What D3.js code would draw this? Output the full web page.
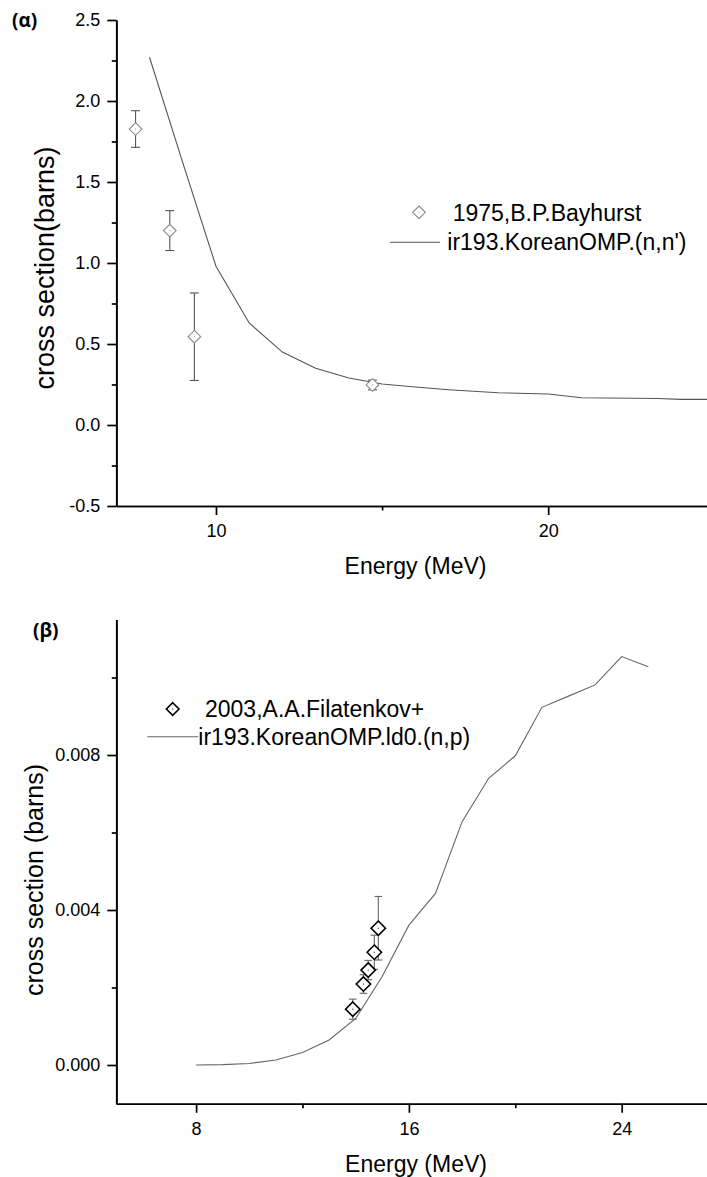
<!DOCTYPE html>
<html>
<head>
<meta charset="utf-8">
<script src="https://cdn.jsdelivr.net/npm/d3@7"></script>
<style>
  html, body { margin: 0; padding: 0; background: #fff; }
  svg { display: block; font-family: "Liberation Sans", Arial, sans-serif; }
  .axis path, .axis line { stroke: #000; stroke-width: 1.7px; }
  .axis text { font-size: 18px; fill: #000; }
</style>
</head>
<body>
<svg id="chart" width="707" height="1177"></svg>
<script>
// ---- Panel (α): Ir-193 (n,n') ----
const bayhurstE   = [7.58, 8.61, 9.35, 14.71];
const bayhurstXS  = [1.827, 1.20, 0.545, 0.247];
const bayhurstErr = [0.113, 0.123, 0.27, 0.03];

const ompNnE  = [8, 9, 10, 11, 12, 13, 14, 15, 16, 17, 18.5, 20, 21, 23.3, 24, 25];
const ompNnXS = [2.27, 1.62, 0.98, 0.63, 0.45, 0.35, 0.29, 0.253, 0.235, 0.218, 0.199, 0.191, 0.168, 0.164, 0.158, 0.158];

const topXTicks = [10, 20];
const topXMinor = [15];
const topYTicks = [-0.5, 0, 0.5, 1.0, 1.5, 2.0, 2.5];
const topYMinor = [-0.25, 0.25, 0.75, 1.25, 1.75, 2.25];

// ---- Panel (β): Ir-193 (n,p) ----
const filatenkovE   = [13.89, 14.29, 14.47, 14.70, 14.85];
const filatenkovXS  = [0.00144, 0.00209, 0.00245, 0.00291, 0.00353];
const filatenkovErr = [0.00026, 0.00024, 0.00025, 0.00044, 0.00082];

const ompNpE  = [8, 9, 10, 11, 12, 13, 14, 15, 16, 17, 18, 19, 20, 21, 22, 23, 24, 25];
const ompNpXS = [0, 0.00001, 0.00004, 0.00013, 0.00032, 0.000645, 0.0012, 0.00229, 0.00361,
                 0.00443, 0.00628, 0.0074, 0.00798, 0.00923, 0.00952, 0.00981, 0.01054, 0.01028];

const botXTicks = [8, 16, 24];
const botXMinor = [12, 20];
const botYTicks = [0, 0.004, 0.008];
const botYMinor = [0.002, 0.006, 0.010];

const svg = d3.select("#chart");

// plain hyphen for negative numbers
const fmt = spec => { const f = d3.format(spec); return v => f(v).replace("\u2212", "-"); };

function diamond(g, cx, cy, r, stroke, sw) {
  g.append("path")
    .attr("d", `M${cx},${cy - r}L${cx + r},${cy}L${cx},${cy + r}L${cx - r},${cy}Z`)
    .attr("fill", "#fff").attr("stroke", stroke).attr("stroke-width", sw);
  g.append("rect").attr("x", cx - 0.5).attr("y", cy - 0.5).attr("width", 1).attr("height", 1)
    .attr("fill", stroke);
}

function panel(cfg) {
  const x = d3.scaleLinear().domain(cfg.xDomain).range(cfg.xRange);
  const y = d3.scaleLinear().domain(cfg.yDomain).range(cfg.yRange);
  const g = svg.append("g");
  const x0 = cfg.xRange[0], yb = cfg.yRange[0];

  // axes: major and minor ticks, outward
  g.append("g").attr("class", "axis").attr("transform", `translate(0,${yb})`)
    .call(d3.axisBottom(x).tickValues(cfg.xMinor).tickSize(4.5).tickSizeOuter(0).tickFormat(""));
  g.append("g").attr("class", "axis").attr("transform", `translate(0,${yb})`)
    .call(d3.axisBottom(x).tickValues(cfg.xTicks).tickSize(9).tickPadding(9).tickSizeOuter(0)
      .tickFormat(fmt("d")));
  g.append("g").attr("class", "axis").attr("transform", `translate(${x0},0)`)
    .call(d3.axisLeft(y).tickValues(cfg.yMinor).tickSize(4.5).tickSizeOuter(0).tickFormat(""));
  g.append("g").attr("class", "axis").attr("transform", `translate(${x0},0)`)
    .call(d3.axisLeft(y).tickValues(cfg.yTicks).tickSize(9).tickPadding(7).tickSizeOuter(0)
      .tickFormat(fmt(cfg.yFormat)));

  // model curve
  const line = d3.line().x(d => x(d[0])).y(d => y(d[1]));
  g.append("path").datum(d3.zip(cfg.lineE, cfg.lineXS))
    .attr("d", line).attr("fill", "none")
    .attr("stroke", cfg.lineColor).attr("stroke-width", 1.1);

  // measurements with error bars
  const pts = g.append("g");
  cfg.ptE.forEach((e, i) => {
    const cx = x(e), cy = y(cfg.ptXS[i]);
    const yt = y(cfg.ptXS[i] + cfg.ptErr[i]), ybm = y(cfg.ptXS[i] - cfg.ptErr[i]);
    pts.append("line").attr("x1", cx).attr("x2", cx).attr("y1", yt).attr("y2", ybm)
      .attr("stroke", cfg.errColor).attr("stroke-width", 1.1);
    [yt, ybm].forEach(v => pts.append("line")
      .attr("x1", cx - cfg.cap).attr("x2", cx + cfg.cap).attr("y1", v).attr("y2", v)
      .attr("stroke", cfg.errColor).attr("stroke-width", 1.1));
  });
  cfg.ptE.forEach((e, i) => diamond(pts, x(e), y(cfg.ptXS[i]), cfg.mr, cfg.markColor, cfg.msw));

  // axis titles
  g.append("text").attr("x", cfg.xTitlePos[0]).attr("y", cfg.xTitlePos[1])
    .attr("text-anchor", "middle").attr("font-size", 23).text("Energy (MeV)");
  g.append("text")
    .attr("transform", `translate(${cfg.yTitlePos[0]},${cfg.yTitlePos[1]}) rotate(-90)`)
    .attr("text-anchor", "middle").attr("font-size", cfg.yTitleSize).text(cfg.yTitle);

  // panel tag
  g.append("text").attr("x", cfg.tagPos[0]).attr("y", cfg.tagPos[1])
    .attr("font-size", 19).attr("font-weight", "bold")
    .attr("font-family", "'Open Sans', 'Liberation Sans', sans-serif").text(cfg.tag);

  // legend
  const lg = g.append("g").attr("font-size", 23);
  diamond(lg, cfg.legend.mark[0], cfg.legend.mark[1], cfg.legend.mr, cfg.markColor, cfg.msw);
  lg.append("text").attr("x", cfg.legend.t1[0]).attr("y", cfg.legend.t1[1]).text(cfg.legend.label1);
  lg.append("line").attr("x1", cfg.legend.line[0]).attr("x2", cfg.legend.line[1])
    .attr("y1", cfg.legend.line[2]).attr("y2", cfg.legend.line[2])
    .attr("stroke", cfg.lineColor).attr("stroke-width", 1.1);
  lg.append("text").attr("x", cfg.legend.t2[0]).attr("y", cfg.legend.t2[1]).text(cfg.legend.label2);
}

panel({
  xDomain: [7, 25], xRange: [116.3, 714.3],
  yDomain: [-0.5, 2.5], yRange: [506, 20],
  xTicks: topXTicks, xMinor: topXMinor, yTicks: topYTicks, yMinor: topYMinor, yFormat: ".1f",
  lineE: ompNnE, lineXS: ompNnXS, lineColor: "#555",
  ptE: bayhurstE, ptXS: bayhurstXS, ptErr: bayhurstErr,
  errColor: "#555", markColor: "#8a8a8a", msw: 1.1, mr: 6.3, cap: 4.5,
  xTitlePos: [415.5, 574], yTitlePos: [54, 268], yTitleSize: 27, yTitle: "cross section(barns)",
  tag: "(α)", tagPos: [12, 27],
  legend: { mark: [419, 212.3], mr: 6.3, t1: [452.7, 220.5], label1: "1975,B.P.Bayhurst",
            line: [390, 440, 242.3], t2: [447.3, 250], label2: "ir193.KoreanOMP.(n,n')" }
});

panel({
  xDomain: [5, 27.5], xRange: [116.3, 714.8],
  yDomain: [-0.001, 0.0115], yRange: [1103.75, 619.4],
  xTicks: botXTicks, xMinor: botXMinor, yTicks: botYTicks, yMinor: botYMinor, yFormat: ".3f",
  lineE: ompNpE, lineXS: ompNpXS, lineColor: "#666",
  ptE: filatenkovE, ptXS: filatenkovXS, ptErr: filatenkovErr,
  errColor: "#666", markColor: "#000", msw: 1.6, mr: 7.2, cap: 3.8,
  xTitlePos: [416, 1172], yTitlePos: [43, 880], yTitleSize: 25, yTitle: "cross section (barns)",
  tag: "(β)", tagPos: [33, 637],
  legend: { mark: [172.7, 709], mr: 6.3, t1: [205, 716.7], label1: "2003,A.A.Filatenkov+",
            line: [147.3, 198.3, 736.7], t2: [198.3, 745], label2: "ir193.KoreanOMP.ld0.(n,p)" }
});
</script>
</body>
</html>
